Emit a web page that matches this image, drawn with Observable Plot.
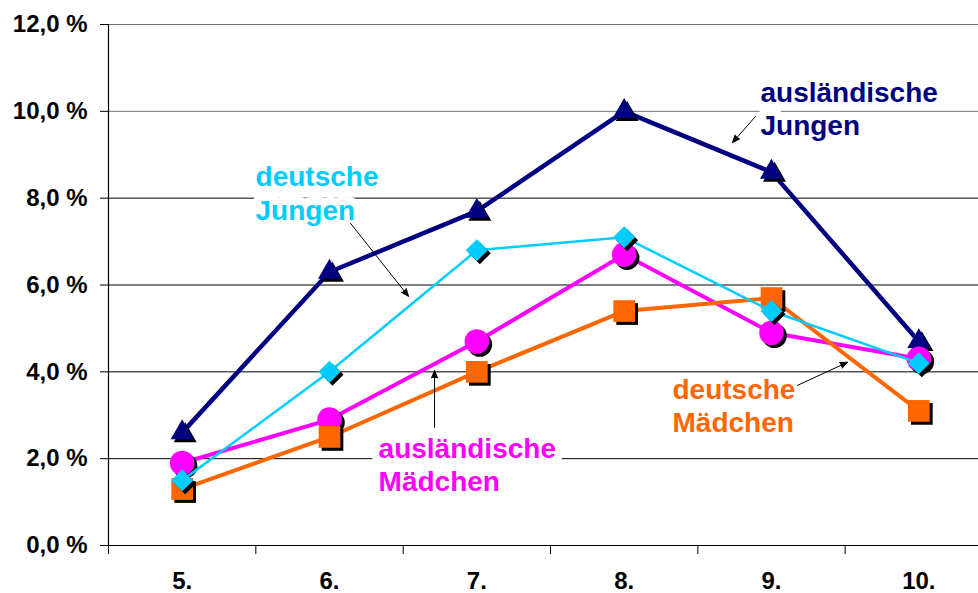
<!DOCTYPE html>
<html><head><meta charset="utf-8">
<script src="https://cdn.jsdelivr.net/npm/d3@7"></script>
<script src="https://cdn.jsdelivr.net/npm/@observablehq/plot@0.6"></script>
<style>body{margin:0;background:#fff;} svg{display:block}</style>
</head><body><div id="chart"></div>
<script>
// ---- data ----
const grades = ["5.", "6.", "7.", "8.", "9.", "10."];
const auslaendischeJungen  = [2.6, 6.3, 7.7, 10.0, 8.6, 4.7];
const deutscheJungen       = [1.5, 4.0, 6.8, 7.1, 5.4, 4.2];
const auslaendischeMaedchen = [1.9, 2.9, 4.7, 6.7, 4.9, 4.3];
const deutscheMaedchen     = [1.3, 2.5, 4.0, 5.4, 5.7, 3.1];
const yTicks = [0, 2, 4, 6, 8, 10, 12];

// series (draw order), styles
const series = [
  {values: auslaendischeJungen,  color: "#000080", symbol: "triangle2", r: 11,  sw: 4.5},
  {values: auslaendischeMaedchen, color: "#FF00FF", symbol: "circle",    r: 12.3, sw: 4},
  {values: deutscheMaedchen,     color: "#FF6600", symbol: "square2",   r: 13.8, sw: 4},
  {values: deutscheJungen,       color: "#00CCFF", symbol: "diamond2",  r: 9.9, sw: 2.5}
];

// annotation labels (data coordinates)
const labels = [
  {text: "ausländische\nJungen", color: "#000080", x: 4.925, y: 10.08, halo: true},
  {text: "deutsche\nJungen",     color: "#00CCFF", x: 1.498, y: 8.14, halo: true},
  {text: "ausländische\nMädchen", color: "#FF00FF", x: 2.333, y: 1.88, halo: true},
  {text: "deutsche\nMädchen",    color: "#FF6600", x: 4.328, y: 3.24, halo: false}
];
const arrows = [
  {x1: 4.891, y1: 9.88, x2: 4.735, y2: 9.28},
  {x1: 2.143, y1: 7.42, x2: 2.536, y2: 5.74},
  {x1: 2.713, y1: 2.72, x2: 2.713, y2: 4.03},
  {x1: 5.177, y1: 3.69, x2: 5.516, y2: 4.22}
];

const idx = grades.map((g, i) => i + 1);
const marks = [];
// gridlines
marks.push(Plot.ruleY(yTicks.filter(d => d > 0), {stroke: "#000", strokeWidth: 1, strokeOpacity: d => d >= 10 ? 0.55 : 1}));
// label halos first (white background hiding gridlines)
marks.push(Plot.text(labels.filter(d => d.halo), {x: "x", y: "y", text: "text", textAnchor: "start", lineAnchor: "middle",
  lineHeight: 1.2, fontSize: 28, fontWeight: "bold", fill: "white", stroke: "white", strokeWidth: 16}));
// axes lines
marks.push(Plot.ruleX([0.5], {y1: 0, y2: 12, stroke: "#000", strokeWidth: 1.2}));
marks.push(Plot.ruleY([0], {stroke: "#000", strokeWidth: 1.2}));
marks.push(Plot.axisY({ticks: yTicks, tickSize: 8, tickPadding: 13,
  tickFormat: d => d.toFixed(1).replace(".", ",") + " %", fontSize: 24, fontWeight: "bold", stroke: "#000"}));
marks.push(Plot.axisX({ticks: [0.5, 1.5, 2.5, 3.5, 4.5, 5.5], tickSize: 9, tickFormat: () => "", stroke: "#000"}));
marks.push(Plot.axisX({ticks: idx, tickSize: 0, tickPadding: 26,
  tickFormat: i => grades[i - 1], fontSize: 24, fontWeight: "bold"}));
// series
for (const s of series) {
  const data = s.values.map((v, i) => ({i: i + 1, v}));
  marks.push(Plot.line(data, {x: "i", y: "v", stroke: s.color, strokeWidth: s.sw}));
  marks.push(Plot.dot(data, {x: "i", y: "v", symbol: s.symbol, r: s.r, fill: "#000", stroke: "none", dx: 3, dy: 3}));
  marks.push(Plot.dot(data, {x: "i", y: "v", symbol: s.symbol, r: s.r, fill: s.color, stroke: "none"}));
}
// annotation text
marks.push(Plot.text(labels, {x: "x", y: "y", text: "text", textAnchor: "start", lineAnchor: "middle",
  lineHeight: 1.2, fontSize: 28, fontWeight: "bold", fill: "color"}));
// arrows
marks.push(Plot.arrow(arrows, {x1: "x1", y1: "y1", x2: "x2", y2: "y2", stroke: "#000", fill: "#000",
  strokeWidth: 1, headLength: 12, headAngle: 45}));

const chart = Plot.plot({
  width: 978, height: 593,
  marginLeft: 108, marginRight: 0, marginTop: 24, marginBottom: 48,
  x: {type: "linear", domain: [0.5, 6.5], range: [108, 992]},
  y: {type: "linear", domain: [0, 12], range: [545, 24]},
  style: {fontFamily: "'Liberation Sans', Arial, sans-serif", background: "white", color: "#000", overflow: "hidden"},
  marks
});
document.getElementById("chart").appendChild(chart);
</script>
</body></html>
